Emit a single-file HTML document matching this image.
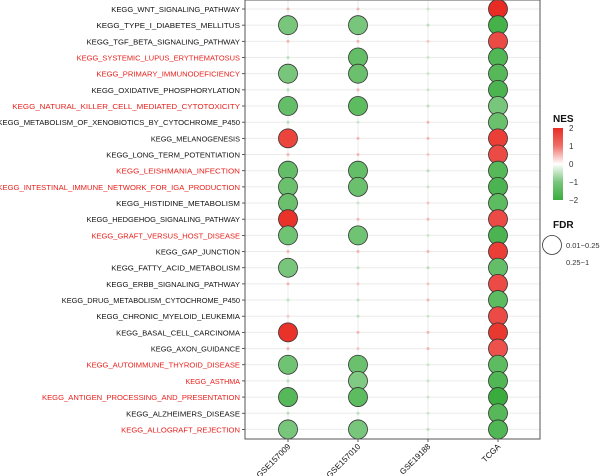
<!DOCTYPE html>
<html><head><meta charset="utf-8"><style>
body{margin:0;background:#fff;}
svg{display:block;font-family:"Liberation Sans",Arial,sans-serif;}
</style></head><body>
<svg id="chart" width="600" height="476" xmlns="http://www.w3.org/2000/svg"></svg>
<script>
const pathways=["KEGG_WNT_SIGNALING_PATHWAY","KEGG_TYPE_I_DIABETES_MELLITUS","KEGG_TGF_BETA_SIGNALING_PATHWAY","KEGG_SYSTEMIC_LUPUS_ERYTHEMATOSUS","KEGG_PRIMARY_IMMUNODEFICIENCY","KEGG_OXIDATIVE_PHOSPHORYLATION","KEGG_NATURAL_KILLER_CELL_MEDIATED_CYTOTOXICITY","KEGG_METABOLISM_OF_XENOBIOTICS_BY_CYTOCHROME_P450","KEGG_MELANOGENESIS","KEGG_LONG_TERM_POTENTIATION","KEGG_LEISHMANIA_INFECTION","KEGG_INTESTINAL_IMMUNE_NETWORK_FOR_IGA_PRODUCTION","KEGG_HISTIDINE_METABOLISM","KEGG_HEDGEHOG_SIGNALING_PATHWAY","KEGG_GRAFT_VERSUS_HOST_DISEASE","KEGG_GAP_JUNCTION","KEGG_FATTY_ACID_METABOLISM","KEGG_ERBB_SIGNALING_PATHWAY","KEGG_DRUG_METABOLISM_CYTOCHROME_P450","KEGG_CHRONIC_MYELOID_LEUKEMIA","KEGG_BASAL_CELL_CARCINOMA","KEGG_AXON_GUIDANCE","KEGG_AUTOIMMUNE_THYROID_DISEASE","KEGG_ASTHMA","KEGG_ANTIGEN_PROCESSING_AND_PRESENTATION","KEGG_ALZHEIMERS_DISEASE","KEGG_ALLOGRAFT_REJECTION"];
const immune=[0,0,0,1,1,0,1,0,0,0,1,1,0,0,1,0,0,0,0,0,0,0,1,1,1,0,1];
const datasets=["GSE157009","GSE157010","GSE19188","TCGA"];
const nesGSE157009=[0.5,-1.0,0.5,-0.5,-1.0,-0.5,-1.3,-0.5,1.6,0.5,-1.3,-1.2,-1.2,1.9,-1.1,0.5,-1.0,0.5,-0.5,0.3,1.9,0.5,-1.1,-0.5,-1.5,-0.5,-1.0];
const nesGSE157010=[0.5,-1.0,0.5,-1.3,-1.2,0.5,-1.4,-0.3,0.5,0.5,-1.3,-1.2,-0.3,0.5,-1.1,0.5,-0.5,0.3,-0.5,-0.5,0.5,0.3,-1.2,-0.9,-1.4,-0.5,-1.0];
const nesGSE19188=[-0.3,-0.5,0.3,-0.3,-0.3,-0.3,-0.5,0.5,0.5,0.3,-0.5,-0.3,0.3,0.5,-0.3,0.5,-0.5,0.3,0.5,-0.3,0.5,0.5,-0.3,-0.3,-0.3,-0.3,-0.5];
const nesTCGA=[2.0,-1.8,1.5,-1.6,-1.5,-1.7,-1.0,-1.2,1.7,1.5,-1.5,-1.7,-1.4,1.5,-1.7,1.7,-1.3,1.5,-1.4,1.5,1.8,1.4,-1.4,-1.6,-2.0,-1.5,-1.6];
const sigGSE157009=[0,1,0,0,1,0,1,0,1,0,1,1,1,1,1,0,1,0,0,0,1,0,1,0,1,0,1];
const sigGSE157010=[0,1,0,1,1,0,1,0,0,0,1,1,0,0,1,0,0,0,0,0,0,0,1,1,1,0,1];
const sigGSE19188=[0,0,0,0,0,0,0,0,0,0,0,0,0,0,0,0,0,0,0,0,0,0,0,0,0,0,0];
const sigTCGA=[1,1,1,1,1,1,1,1,1,1,1,1,1,1,1,1,1,1,1,1,1,1,1,1,1,1,1];
const nesAll=[nesGSE157009,nesGSE157010,nesGSE19188,nesTCGA];
const sigAll=[sigGSE157009,sigGSE157010,sigGSE19188,sigTCGA];
const nesTicks=[2,1,0,-1,-2];

const svg=document.getElementById('chart');
const NS='http://www.w3.org/2000/svg';
function mk(t,a,p){const e=document.createElementNS(NS,t);for(const k in a)e.setAttribute(k,a[k]);(p||svg).appendChild(e);return e;}
const L=245,R=540,T=0,B=439;
const x=i=>288+i*70;
const y=j=>9+j*16.17;
function color(v){
  const t=Math.max(-1,Math.min(1,v/2));
  const hi=t>=0?[232,44,36]:[58,172,62];
  const a=Math.pow(Math.abs(t),0.55);
  const c=[0,1,2].map(k=>Math.round(255+(hi[k]-255)*a));
  return `rgb(${c[0]},${c[1]},${c[2]})`;
}
const bg=mk('rect',{x:L,y:T,width:R-L,height:B-T,fill:'#fff'});


const grid=mk('g',{});


pathways.forEach((p,j)=>{mk('line',{x1:L,x2:R,y1:y(j),y2:y(j),stroke:'#ebebeb','stroke-width':1},grid);});
datasets.forEach((d,i)=>{mk('line',{x1:x(i),x2:x(i),y1:T,y2:B,stroke:'#ebebeb','stroke-width':1},grid);});
const ylab=mk('g',{});


pathways.forEach((p,j)=>{
  const t=mk('text',{x:240,y:y(j)+3,'text-anchor':'end','font-size':'7.3',fill:immune[j]?'#e8201c':'#111',textLength:(p.length*4.95).toFixed(1),lengthAdjust:'spacingAndGlyphs'},ylab);
  t.textContent=p;
  
  
  mk('line',{x1:242,x2:L,y1:y(j),y2:y(j),stroke:'#333','stroke-width':0.8},ylab);
});
const dots=mk('g',{});


datasets.forEach((d,i)=>{
  pathways.forEach((p,j)=>{
    const v=nesAll[i][j],s=sigAll[i][j];
    const c=mk('circle',{cx:x(i),cy:y(j),r:s?9.5:1.5,fill:color(v),stroke:s?'#333':'none','stroke-width':0.8,opacity:s?1:0.7},dots);
    
    
  });
});
const border=mk('rect',{x:L,y:T,width:R-L,height:B-T,fill:'none',stroke:'#555','stroke-width':1});


const xlab=mk('g',{});


datasets.forEach((d,i)=>{
  mk('line',{x1:x(i),x2:x(i),y1:B,y2:B+3,stroke:'#333','stroke-width':0.8},xlab);
  const t=mk('text',{x:x(i)+3,y:B+8,'text-anchor':'end','font-size':'8.1',fill:'#111',transform:`rotate(-45 ${x(i)+3} ${B+8})`},xlab);
  t.textContent=d;
  
  
});
const leg=mk('g',{});


const defs=mk('defs',{});
const lg=mk('linearGradient',{id:'g',x1:0,y1:0,x2:0,y2:1},defs);
[[0,color(2)],[0.25,color(1)],[0.5,'#fff'],[0.75,color(-1)],[1,color(-2)]].forEach(s=>mk('stop',{offset:s[0],'stop-color':s[1]},lg));
const lt=mk('text',{x:553,y:122,'font-size':'10','font-weight':'bold',fill:'#111'},leg);lt.textContent='NES';
mk('rect',{x:553,y:128,width:10,height:72,fill:'url(#g)'},leg);
const cy=v=>164-v*18;
nesTicks.forEach(v=>{
  const t=mk('text',{x:569,y:cy(v)+3,'font-size':'8',fill:'#333'},leg);
  t.textContent=v<0?'\u2212'+Math.abs(v):String(v);
});
const fl=mk('g',{});


const ft=mk('text',{x:553,y:228,'font-size':'10','font-weight':'bold',fill:'#111'},fl);ft.textContent='FDR';
mk('circle',{cx:552,cy:245,r:9.5,fill:'none',stroke:'#333','stroke-width':0.8},fl);
const f1=mk('text',{x:566,y:248,'font-size':'7.5',fill:'#333'},fl);f1.textContent='0.01~0.25';
const f2=mk('text',{x:566,y:265,'font-size':'7.5',fill:'#333'},fl);f2.textContent='0.25~1';
</script>
</body></html>
